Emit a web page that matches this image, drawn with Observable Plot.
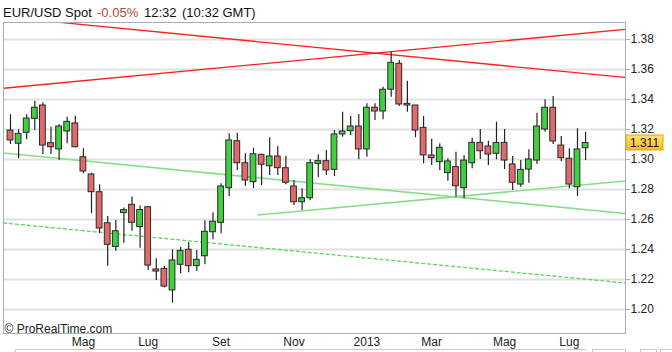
<!DOCTYPE html>
<html><head><meta charset="utf-8">
<script src="https://cdn.jsdelivr.net/npm/d3@7"></script>
<script src="https://cdn.jsdelivr.net/npm/@observablehq/plot@0.6"></script>
<style>
body{margin:0;background:#fff;font-family:"Liberation Sans",Arial,sans-serif;}
#wrap{position:relative;width:672px;height:352px;overflow:hidden;background:#fff;}
#title{position:absolute;left:0;top:0;height:21px;width:672px;font-size:13px;color:#111;}
#title span{position:absolute;top:5px;white-space:nowrap;line-height:normal;}
#chart{position:absolute;left:0;top:21px;}
.ui{position:absolute;border:1px solid #c8c8c8;}
</style></head><body>
<div id="wrap">
<div id="title"><span style="left:3px">EUR/USD Spot</span><span style="left:97px;color:#b5453c">-0.05%</span><span style="left:144px">12:32</span><span style="left:182px">(10:32 GMT)</span></div>
<div id="chart"></div>
<div class="ui" style="left:15px;top:349px;width:570px;height:10px;border-right:none"></div>
<div class="ui" style="left:592px;top:349px;width:32px;height:10px"></div>
<div class="ui" style="left:640px;top:349px;width:15px;height:10px"></div>
<div class="ui" style="left:660px;top:349px;width:20px;height:10px"></div>
</div>
<script>
// weekly candles, first week starting 2012-03-05
const weekStart = "2012-03-05";
const opens  = [1.3193,1.3105,1.3178,1.3271,1.3360,1.3109,1.3067,1.3187,1.3240,1.3015,1.2900,1.2782,1.2575,1.2417,1.2643,1.2698,1.2550,1.2682,1.2267,1.2271,1.2127,1.2298,1.2398,1.2289,1.2355,1.2515,1.2578,1.2809,1.3122,1.2975,1.2849,1.3031,1.2955,1.3020,1.2942,1.2820,1.2715,1.2742,1.2971,1.2989,1.2931,1.3167,1.3189,1.3220,1.3067,1.3345,1.3320,1.3465,1.3638,1.3371,1.3360,1.3211,1.3027,1.2982,1.2909,1.2949,1.2809,1.2975,1.3111,1.3087,1.3038,1.3111,1.2967,1.2833,1.2933,1.2993,1.3200,1.3345,1.3093,1.3005,1.2815,1.3075];
const highs  = [1.3298,1.3198,1.3298,1.3389,1.3378,1.3215,1.3231,1.3282,1.3289,1.3071,1.2909,1.2831,1.2620,1.2593,1.2677,1.2750,1.2690,1.2687,1.2338,1.2287,1.2398,1.2413,1.2447,1.2393,1.2591,1.2645,1.2838,1.3171,1.3175,1.3038,1.3075,1.3035,1.3145,1.3087,1.3020,1.2860,1.2805,1.2998,1.3031,1.3060,1.3193,1.3315,1.3287,1.3300,1.3371,1.3371,1.3482,1.3715,1.3660,1.3522,1.3360,1.3287,1.3135,1.3105,1.3005,1.3049,1.3027,1.3142,1.3200,1.3122,1.3249,1.3200,1.3020,1.2993,1.3065,1.3309,1.3398,1.3420,1.3153,1.3071,1.3205,1.3182];
const lows   = [1.3100,1.3005,1.3131,1.3193,1.3033,1.3033,1.2993,1.3105,1.3078,1.2905,1.2638,1.2507,1.2289,1.2389,1.2442,1.2522,1.2409,1.2260,1.2193,1.2145,1.2042,1.2238,1.2245,1.2255,1.2298,1.2465,1.2505,1.2753,1.2927,1.2822,1.2805,1.2827,1.2893,1.2893,1.2831,1.2693,1.2660,1.2727,1.2878,1.2893,1.2887,1.3149,1.3160,1.2998,1.3015,1.3260,1.3265,1.3415,1.3353,1.3315,1.3145,1.2971,1.2960,1.2927,1.2855,1.2749,1.2738,1.2938,1.3000,1.2960,1.2998,1.2933,1.2793,1.2815,1.2842,1.2967,1.3182,1.3100,1.2987,1.2805,1.2753,1.2993];
const closes = [1.3127,1.3171,1.3273,1.3345,1.3093,1.3082,1.3220,1.3251,1.3082,1.2920,1.2782,1.2540,1.2431,1.2522,1.2662,1.2578,1.2663,1.2293,1.2253,1.2153,1.2327,1.2391,1.2289,1.2331,1.2518,1.2585,1.2820,1.3127,1.2975,1.2860,1.3035,1.2965,1.3020,1.2942,1.2845,1.2715,1.2742,1.2975,1.2989,1.2927,1.3167,1.3187,1.3220,1.3067,1.3345,1.3320,1.3465,1.3645,1.3367,1.3360,1.3193,1.3027,1.3009,1.3078,1.2987,1.2822,1.2993,1.3111,1.3055,1.3033,1.3111,1.2993,1.2845,1.2931,1.3000,1.3220,1.3345,1.3120,1.3009,1.2833,1.3067,1.3110];

const yTicks = [1.20,1.22,1.24,1.26,1.28,1.30,1.32,1.34,1.36,1.38];
const xTickDates  = ["2012-05-07","2012-07-02","2012-09-03","2012-11-05","2013-01-07","2013-03-04","2013-05-06","2013-07-01"];
const xTickLabels = ["Mag","Lug","Set","Nov","2013","Mar","Mag","Lug"];

// trend lines: [date, price]
const redRising   = [["2012-02-28",1.3475],["2013-08-18",1.3867]];
const redFalling  = [["2012-04-10",1.3919],["2013-08-18",1.3547]];
const greenFalling= [["2012-02-28",1.3043],["2013-08-18",1.2640]];
const greenRising = [["2012-10-05",1.2630],["2013-08-18",1.2857]];
const greenDashed = [["2012-02-28",1.2577],["2013-08-18",1.2177]];

const DAY = 864e5;
const start = new Date(weekStart);
const candles = opens.map((o,i)=>({
  date: new Date(+start + 7*i*DAY),
  open:o, high:highs[i], low:lows[i], close:closes[i], up: closes[i] > o
}));
const toPts = arr => arr.map(([d,v])=>({date:new Date(d), value:v}));
const labelOf = new Map(xTickDates.map((d,i)=>[+new Date(d), xTickLabels[i]]));
const half = 2.5*DAY;

const plot = Plot.plot({
  width: 672, height: 331,
  marginLeft: 3, marginRight: 47, marginTop: 1, marginBottom: 19,
  style: {fontFamily: '"Liberation Sans", Arial, sans-serif', fontSize: "12px", color: "#222", background: "#fff"},
  x: {type: "utc", domain: [new Date(+start - 6.05*DAY), new Date(+start + 531.5*DAY)]},
  y: {domain: [1.184, 1.391333]},
  marks: [
    Plot.ruleY(yTicks, {stroke: "#e1e1e1", strokeWidth: 2}),
    Plot.line(toPts(greenDashed), {x:"date", y:"value", stroke:"#5ad65a", strokeWidth:1.3, strokeDasharray:"3,3", clip:true}),
    Plot.line(toPts(greenFalling), {x:"date", y:"value", stroke:"#86df86", strokeWidth:1.6, clip:true}),
    Plot.line(toPts(greenRising), {x:"date", y:"value", stroke:"#86df86", strokeWidth:1.6, clip:true}),
    Plot.line(toPts(redRising), {x:"date", y:"value", stroke:"#ff1e1e", strokeWidth:1.3, clip:true}),
    Plot.line(toPts(redFalling), {x:"date", y:"value", stroke:"#ff1e1e", strokeWidth:1.3, clip:true}),
    Plot.ruleX(candles, {x:"date", y1:"low", y2:"high", stroke:"#222", strokeWidth:1.2}),
    Plot.rect(candles, {x1: d=>new Date(+d.date - half), x2: d=>new Date(+d.date + half), y1:"open", y2:"close",
      fill: d=> d.up ? "#3fcf3f" : "#e06a6a", stroke:"#2a2a2a", strokeWidth:1}),
    Plot.frame({stroke:"#a5afb8"}),
    Plot.axisY(yTicks, {anchor:"right", tickFormat: d3.format(".2f"), tickSize:4, tickPadding:1, stroke:"#a5afb8", fill:"#222", fontSize:12, label:null}),
    Plot.axisX(xTickDates.map(d=>new Date(d)), {anchor:"bottom", tickSize:0, tickPadding:3.5, tickFormat: d=>labelOf.get(+d), fill:"#222", fontSize:12, label:null}),
    Plot.text(["© ProRealTime.com"], {frameAnchor:"bottom-left", textAnchor:"start", lineAnchor:"bottom", dx:1, dy:-1, fontSize:12, fill:"#222"})
  ]
});
document.getElementById("chart").appendChild(plot);

// last price marker on the right axis
const last = closes[closes.length-1];
const yLast = plot.scale("y").apply(last);
const svg = d3.select(plot);
const defs = svg.append("defs");
const g = defs.append("linearGradient").attr("id","gold").attr("x1",0).attr("x2",0).attr("y1",0).attr("y2",1);
g.append("stop").attr("offset","0%").attr("stop-color","#ffe27a");
g.append("stop").attr("offset","100%").attr("stop-color","#f4bb1c");
svg.append("rect").attr("x",626).attr("y",yLast-7.5).attr("width",37).attr("height",15)
  .attr("fill","url(#gold)").attr("stroke","#e2a510").attr("stroke-width",1);
svg.append("text").attr("x",644.5).attr("y",yLast).attr("dy","0.35em").attr("text-anchor","middle")
  .attr("font-size",12).attr("fill","#111").text(d3.format(".3f")(last));
</script>
</body></html>
